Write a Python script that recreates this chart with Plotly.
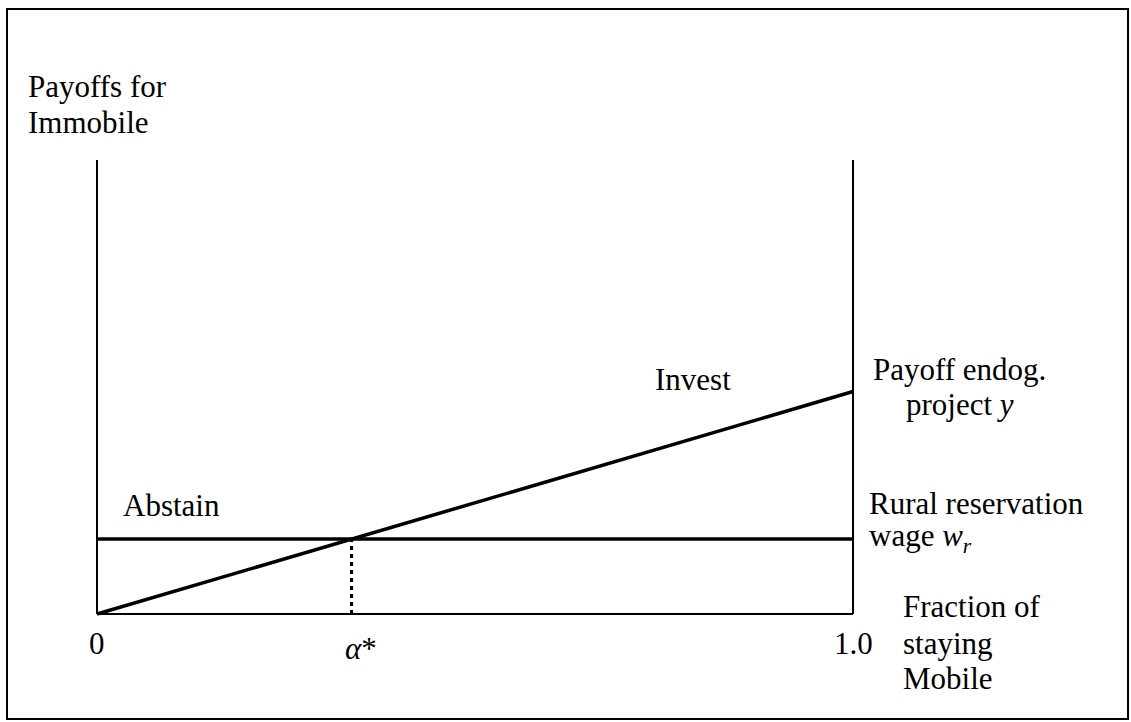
"""Payoffs for immobile agents: invest vs abstain, with threshold alpha*."""

import plotly.graph_objects as go

# fraction of Mobile staying, from 0 to 1.0
frac_ends = [0.0, 1.0]
# payoff scale (arbitrary units)
axis_top = 2.0
wage_wr = 0.33          # rural reservation wage w_r
project_y = 0.98        # payoff of endogenous project y (all Mobile stay)
invest_payoff = [0.0, project_y]
alpha_star = wage_wr / project_y

FONT = "Liberation Serif, Times New Roman, serif"
BLACK = "#000000"

fig = go.Figure()


def seg(x, y, width, dash="solid"):
    fig.add_trace(
        go.Scatter(
            x=x, y=y, mode="lines",
            line=dict(color=BLACK, width=width, dash=dash),
            hoverinfo="skip", showlegend=False,
        )
    )


# frame of the diagram: two verticals and the base
seg([frac_ends[0], frac_ends[0]], [0, axis_top], 2)
seg([frac_ends[1], frac_ends[1]], [0, axis_top], 2)
seg(frac_ends, [0, 0], 2)
# abstain payoff: flat at the reservation wage
seg(frac_ends, [wage_wr, wage_wr], 3.5)
# invest payoff rises with the fraction staying
seg(frac_ends, invest_payoff, 3.5)
# threshold
seg([alpha_star, alpha_star], [0, wage_wr], 3, dash="4px,4px")

labels = [
    # text, x, y, xanchor
    ("Payoffs for", -0.094, 2.326, "left"),
    ("Immobile", -0.094, 2.167, "left"),
    ("Abstain", 0.032, 0.480, "left"),
    ("Invest", 0.788, 1.031, "center"),
    ("Payoff endog.", 1.1415, 1.079, "center"),
    ("project <i>y</i>", 1.1415, 0.925, "center"),
    ("Rural reservation", 1.0185, 0.489, "left"),
    ("wage <i>w</i><sub><i>r</i></sub>", 1.0185, 0.335, "left"),
    ("Fraction of", 1.0635, 0.031, "left"),
    ("staying", 1.0635, -0.128, "left"),
    ("Mobile", 1.0635, -0.282, "left"),
    ("0", 0.0, -0.132, "center"),
    ("1.0", 1.0, -0.132, "center"),
    ("<i>α</i>*", alpha_star + 0.013, -0.150, "center"),
]
for text, x, y, xa in labels:
    fig.add_annotation(
        x=x, y=y, text=text, showarrow=False,
        xanchor=xa, yanchor="middle",
        font=dict(family=FONT, size=31, color=BLACK),
    )

# outer border box
fig.add_shape(
    type="rect", xref="paper", yref="paper",
    x0=7 / 1131, y0=3 / 722, x1=1 - 3 / 1131, y1=1 - 9 / 722,
    line=dict(color=BLACK, width=2), layer="below",
)

fig.update_layout(
    width=1131, height=722,
    margin=dict(l=0, r=0, t=0, b=0),
    paper_bgcolor="white", plot_bgcolor="white",
    xaxis=dict(range=[-97 / 756, 1034 / 756], visible=False, fixedrange=True),
    yaxis=dict(range=[-108 / 227, 614 / 227], visible=False, fixedrange=True),
    showlegend=False,
)

# drop the default body margin so the figure sits at the window's corner
fig.write_html(
    "out.html",
    config={"displayModeBar": False, "staticPlot": True},
    post_script="document.body.style.margin='0';"
    "document.body.style.overflow='hidden';",
)
